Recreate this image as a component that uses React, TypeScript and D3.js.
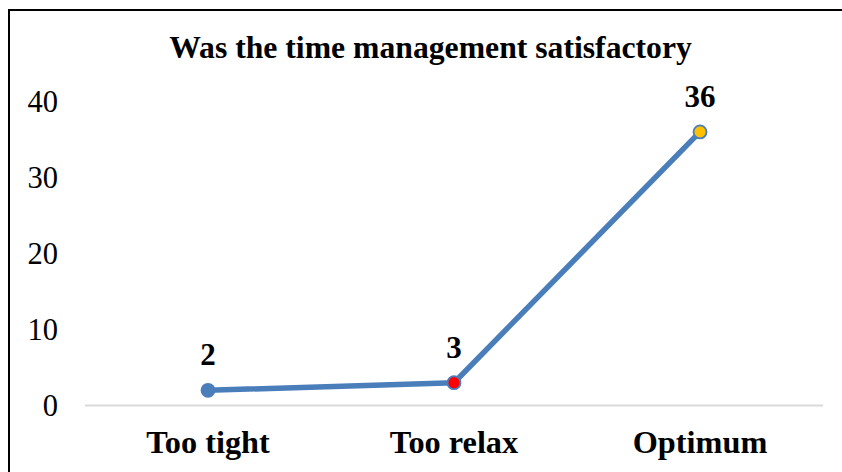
import React, { useEffect, useRef } from "react";
import * as d3 from "d3";

const categories = ["Too tight", "Too relax", "Optimum"];
const values = [2, 3, 36];
const markerFills = ["#4a7ebb", "#ff0000", "#ffc000"];
const yTicks = [0, 10, 20, 30, 40];
const title = "Was the time management satisfactory";

const W = 842;
const H = 472;
const FONT = "'Liberation Serif', 'Times New Roman', serif";

export default function App() {
  const ref = useRef<SVGSVGElement>(null);

  useEffect(() => {
    const svg = d3.select(ref.current);
    svg.selectAll("*").remove();

    const x = d3.scaleBand<string>().domain(categories).range([85, 823]);
    const y = d3.scaleLinear().domain([0, 40]).range([405.5, 101.5]);
    const cx = (c: string) => (x(c) as number) + x.bandwidth() / 2;

    svg.append("rect").attr("width", W).attr("height", H).attr("fill", "#fff");

    // border (top & left visible)
    svg.append("line").attr("x1", 8).attr("x2", W + 5).attr("y1", 10).attr("y2", 10)
      .attr("stroke", "#000").attr("stroke-width", 2);
    svg.append("line").attr("x1", 9).attr("x2", 9).attr("y1", 9).attr("y2", H + 5)
      .attr("stroke", "#000").attr("stroke-width", 2);

    svg.append("text").attr("x", 430.5).attr("y", 58).attr("text-anchor", "middle")
      .attr("font-family", FONT).attr("font-weight", "bold").attr("font-size", 31.7)
      .attr("fill", "#000").text(title);

    // y tick labels
    svg.selectAll(".yt").data(yTicks).enter().append("text")
      .attr("x", 58).attr("y", (d) => y(d) + 10.5).attr("text-anchor", "end")
      .attr("font-family", FONT).attr("font-size", 30.5).attr("fill", "#000")
      .text((d) => String(d));

    // x axis line
    svg.append("line").attr("x1", 85).attr("x2", 823).attr("y1", y(0)).attr("y2", y(0))
      .attr("stroke", "#d9d9d9").attr("stroke-width", 2);

    // category labels
    svg.selectAll(".xl").data(categories).enter().append("text")
      .attr("x", (d) => cx(d)).attr("y", 453).attr("text-anchor", "middle")
      .attr("font-family", FONT).attr("font-weight", "bold").attr("font-size", 32.3)
      .attr("fill", "#000").text((d) => d);

    const pts = categories.map((c, i) => ({ c, v: values[i], f: markerFills[i] }));
    const line = d3.line<{ c: string; v: number }>().x((d) => cx(d.c)).y((d) => y(d.v));
    svg.append("path").datum(pts).attr("d", line).attr("fill", "none")
      .attr("stroke", "#4a7ebb").attr("stroke-width", 5.5).attr("stroke-linejoin", "round");

    svg.selectAll(".mk").data(pts).enter().append("circle")
      .attr("cx", (d) => cx(d.c)).attr("cy", (d) => y(d.v)).attr("r", 6.5)
      .attr("fill", (d) => d.f).attr("stroke", "#4a7ebb").attr("stroke-width", 1.8);

    svg.selectAll(".lb").data(pts).enter().append("text")
      .attr("x", (d) => cx(d.c)).attr("y", (d) => y(d.v) - 25).attr("text-anchor", "middle")
      .attr("font-family", FONT).attr("font-weight", "bold").attr("font-size", 31)
      .attr("fill", "#000").text((d) => String(d.v));
  }, []);

  return (
    <svg ref={ref} width={W} height={H} style={{ position: "absolute", left: 0, top: 0, display: "block" }} />
  );
}
